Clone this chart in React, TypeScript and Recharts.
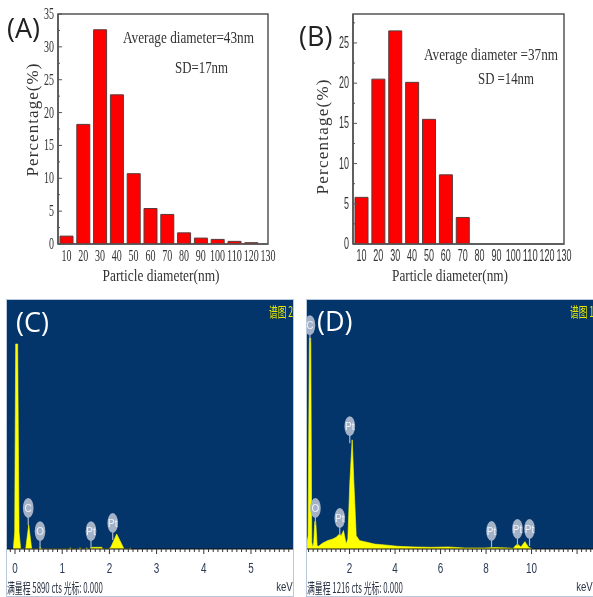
import React from "react";
import { BarChart, Bar, XAxis, YAxis, ReferenceArea, ComposedChart, Area, Scatter, Label } from "recharts";

const diameterTicks = [10, 20, 30, 40, 50, 60, 70, 80, 90, 100, 110, 120, 130];
const diametersA = [10, 20, 30, 40, 50, 60, 70, 80, 90, 100, 110, 120];
const percentA = [1.2, 18.2, 32.6, 22.7, 10.7, 5.4, 4.5, 1.7, 0.9, 0.7, 0.4, 0.2];
const diametersB = [10, 20, 30, 40, 50, 60, 70];
const percentB = [5.8, 20.5, 26.5, 20.1, 15.5, 8.6, 3.3];
const yTicksA = [0, 2.5, 5, 7.5, 10, 12.5, 15, 17.5, 20, 22.5, 25, 27.5, 30, 32.5, 35];
const yTicksB = [0, 2.5, 5, 7.5, 10, 12.5, 15, 17.5, 20, 22.5, 25, 27.5];

const kevC = [-0.035, -0.007, 0.014, 0.035, 0.056, 0.085, 0.12, 0.226, 0.29, 0.353, 0.5, 0.537, 0.57, 1.15, 1.17, 1.19, 1.35, 1.38, 1.4, 1.5, 1.52, 1.54, 1.6, 1.61, 1.84, 1.86, 1.98, 2.03, 2.154, 2.31, 2.34, 2.42, 2.44, 2.46];
const ctsC = [0, 400, 4850, 4850, 4850, 400, 0, 0, 570, 0, 0, 40, 0, 0, 30, 0, 0, 30, 0, 0, 30, 0, 0, 40, 40, 0, 0, 40, 355, 0, 0, 0, 20, 0];
const kevD = [0.134, 0.178, 0.236, 0.295, 0.339, 0.383, 0.427, 0.471, 0.515, 0.574, 0.633, 0.824, 1.044, 1.264, 1.411, 1.558, 1.631, 1.734, 1.851, 1.925, 2.013, 2.116, 2.19, 2.293, 2.439, 2.66, 3.1, 3.54, 4.128, 4.86, 5.596, 6.33, 7.065, 7.946, 8.386, 8.973, 9.193, 9.267, 9.384, 9.53, 9.708, 9.855, 10.03];
const ctsD = [33, 65, 1030, 1030, 33, 8, 33, 134, 134, 16, 13, 29, 41, 49, 57, 73, 65, 90, 24, 49, 326, 533, 326, 65, 41, 36, 24, 20, 13, 10, 8, 10, 5, 5, 7, 5, 3, 13, 24, 10, 36, 10, 0];

const peakKevC = [0.28, 0.53, 1.61, 2.07];
const peakCtsC = [570, 20, 20, 213];
const peakNamesC = ["C", "O", "Pt", "Pt"];
const peakKevD = [0.26, 0.5, 1.57, 2.01, 8.24, 9.38, 9.91];
const peakCtsD = [1010, 117, 68, 517, 5, 15, 15];
const peakNamesD = ["C", "O", "Pt", "Pt", "Pt", "Pt", "Pt"];
const energyTicksC = [-0.1, 0, 0.1, 0.2, 0.3, 0.4, 0.5, 0.6, 0.7, 0.8, 0.9, 1, 1.1, 1.2, 1.3, 1.4, 1.5, 1.6, 1.7, 1.8, 1.9, 2, 2.1, 2.2, 2.3, 2.4, 2.5, 2.6, 2.7, 2.8, 2.9, 3, 3.1, 3.2, 3.3, 3.4, 3.5, 3.6, 3.7, 3.8, 3.9, 4, 4.1, 4.2, 4.3, 4.4, 4.5, 4.6, 4.7, 4.8, 4.9, 5, 5.1, 5.2, 5.3, 5.4, 5.5, 5.6, 5.7, 5.8];
const energyTicksD = [0.2, 0.4, 0.6, 0.8, 1, 1.2, 1.4, 1.6, 1.8, 2, 2.2, 2.4, 2.6, 2.8, 3, 3.2, 3.4, 3.6, 3.8, 4, 4.2, 4.4, 4.6, 4.8, 5, 5.2, 5.4, 5.6, 5.8, 6, 6.2, 6.4, 6.6, 6.8, 7, 7.2, 7.4, 7.6, 7.8, 8, 8.2, 8.4, 8.6, 8.8, 9, 9.2, 9.4, 9.6, 9.8, 10, 10.2, 10.4, 10.6, 10.8, 11, 11.2, 11.4, 11.6, 11.8, 12, 12.2, 12.4, 12.6];
const energyLabelsC = [0, 1, 2, 3, 4, 5];
const energyLabelsD = [2, 4, 6, 8, 10];

const zip = (a: number[], b: number[], k: string, v: string) => a.map((x, i) => ({ [k]: x, [v]: b[i] }));
const SERIF = "'Liberation Serif', serif";
const SANS = "'Liberation Sans', sans-serif";
const CJK = "'Noto Sans CJK SC', sans-serif";
const AXIS = "#555";
const TXT = "#333";

const histX = (font: string) => (p: any) => {
  const s = String(p.payload.value);
  return (
    <g>
      <text x={p.x} y={p.y + 17} textAnchor="middle" fontFamily={font} fontSize={16} fill={TXT} textLength={s.length * 5} lengthAdjust="spacingAndGlyphs">{s}</text>
    </g>
  );
};
const histY = (font: string) => (p: any) => {
  const v = p.payload.value;
  const major = v % 5 === 0;
  return (
    <g>
      <line x1={p.x + 4} x2={p.x + (major ? 8 : 6)} y1={p.y} y2={p.y} stroke={AXIS} strokeWidth={1} />
      {major && <text x={p.x} y={p.y + 5} textAnchor="end" fontFamily={font} fontSize={16} fill={TXT} textLength={String(v).length * 5} lengthAdjust="spacingAndGlyphs">{v}</text>}
    </g>
  );
};

function Histogram(props: { left: number; right: number; xs: number[]; ys: number[]; max: number; yTicks: number[]; font: string; titleX: number; titleW: number; yTitleW: number; yTitleX: number; yTitleY: number }) {
  const { left, right, xs, ys, max, yTicks, font, titleX, titleW, yTitleW, yTitleX, yTitleY } = props;
  const data = zip(xs, ys, "d", "p");
  return (
    <div style={{ position: "absolute", left, top: 0 }}>
      <BarChart width={290} height={295} data={data} margin={{ top: 14, right, bottom: 0, left: 0 }} barSize={13}>
        <XAxis dataKey="d" type="number" domain={[5, 130]} ticks={diameterTicks} interval={0} height={51} tick={histX(font)} tickLine={false} tickSize={0} tickMargin={0} axisLine={{ stroke: AXIS, strokeWidth: 1.5 }} allowDataOverflow>
          <Label value="Particle diameter(nm)" content={() => (
            <text x={titleX} y={281} textAnchor="middle" fontFamily={SERIF} fontSize={17} fill={TXT} textLength={titleW} lengthAdjust="spacingAndGlyphs">Particle diameter(nm)</text>
          )} />
        </XAxis>
        <YAxis type="number" domain={[0, max]} ticks={yTicks} interval={0} width={58} tick={histY(font)} tickLine={false} tickSize={4} tickMargin={0} axisLine={{ stroke: AXIS, strokeWidth: 1.5 }} allowDataOverflow>
          <Label value="Percentage(%)" content={() => (
            <text transform={`translate(${yTitleX} ${yTitleY}) rotate(-90)`} textAnchor="middle" fontFamily={SERIF} fontSize={17} fill={TXT} textLength={yTitleW} lengthAdjust="spacing">Percentage(%)</text>
          )} />
        </YAxis>
        <ReferenceArea x1={5} x2={130} y1={0} y2={max} fill="none" stroke={AXIS} strokeWidth={1.5} />
        <Bar dataKey="p" fill="#ff0000" stroke="#5a3a3a" strokeWidth={1} isAnimationActive={false} />
      </BarChart>
    </div>
  );
}

const peakShape = (names: string[]) => (p: any) => {
  const n = names[p.index];
  const cx = p.cx;
  const cy = p.cy;
  return (
    <g>
      <line x1={cx} x2={cx} y1={cy} y2={cy - 8} stroke="#a9b7cb" strokeWidth={1.2} />
      <ellipse cx={cx} cy={cy - 17} rx={5.3} ry={10} fill="#a4b2c8" />
      <text x={cx} y={cy - 13} textAnchor="middle" fontFamily={SANS} fontSize={10} fill="#eef2f7">{n}</text>
    </g>
  );
};

const specX = (labels: number[], isMajor: (v: number) => boolean) => (p: any) => {
  const v = p.payload.value;
  const major = isMajor(v);
  return (
    <g>
      <line x1={p.x} x2={p.x} y1={p.y} y2={p.y + (major ? 5 : 3)} stroke="#333" strokeWidth={1} />
      {labels.includes(v) && <text x={p.x} y={p.y + 24} textAnchor="middle" fontFamily={SANS} fontSize={14} fill="#2a3a55" textLength={String(v).length * 5.5} lengthAdjust="spacingAndGlyphs">{v}</text>}
    </g>
  );
};

function Spectrum(props: { left: number; width: number; kev: number[]; cts: number[]; domain: [number, number]; ticks: number[]; labels: number[]; isMajor: (v: number) => boolean; peaksX: number[]; peaksY: number[]; names: string[]; full: number; status: string; tag: string; tagX: number }) {
  const { left, width, kev, cts, domain, ticks, labels, isMajor, peaksX, peaksY, names, full, status, tag, tagX } = props;
  const data = zip(kev, cts, "k", "c");
  const peaks = zip(peaksX, peaksY, "k", "c");
  return (
    <div style={{ position: "absolute", left, top: 300, width, height: 296, background: "#fff" }}>
      <ComposedChart width={width} height={296} data={data} margin={{ top: 0, right: 0, bottom: 0, left: 0 }} style={{ display: "block" }}>
        <XAxis dataKey="k" type="number" domain={domain} ticks={ticks} interval={0} height={47} tick={specX(labels, isMajor)} tickLine={false} tickSize={0} tickMargin={0} axisLine={{ stroke: "#111", strokeWidth: 1 }} allowDataOverflow />
        <YAxis type="number" domain={[0, full]} hide allowDataOverflow />
        <ReferenceArea x1={domain[0]} x2={domain[1]} y1={0} y2={full} fill="#03356b" fillOpacity={1} stroke="none" ifOverflow="hidden" />
        <Area dataKey="c" type="linear" fill="#ffff00" fillOpacity={1} stroke="#ffff00" strokeWidth={0.6} isAnimationActive={false} dot={false} activeDot={false} />
        <Scatter data={peaks} dataKey="c" shape={peakShape(names)} isAnimationActive={false} />
      </ComposedChart>
      <div style={{ position: "absolute", left: 0, top: 279, fontFamily: CJK, fontSize: 14, lineHeight: "16px", color: "#2b3444", whiteSpace: "nowrap", transform: "scaleX(0.56)", transformOrigin: "0 0" }}>{status}</div>
      <div style={{ position: "absolute", right: 0, top: 280, fontFamily: SANS, fontSize: 12, lineHeight: "14px", color: "#2b3444", transform: "scaleX(0.8)", transformOrigin: "100% 0" }}>keV</div>
      <div style={{ position: "absolute", left: tagX, top: 2, fontFamily: CJK, fontSize: 14, lineHeight: "18px", color: "#e8e800", whiteSpace: "nowrap", transform: "scaleX(0.62)", transformOrigin: "0 0" }}>{tag}</div>
    </div>
  );
}

const Note = (p: { x: number; y: number; w: number; children: string }) => (
  <text x={p.x} y={p.y} fontFamily={SERIF} fontSize={17} fill={TXT} textLength={p.w} lengthAdjust="spacingAndGlyphs">{p.children}</text>
);

export default function App() {
  return (
    <div style={{ position: "absolute", left: 0, top: 0, width: 593, height: 597, background: "#fff", overflow: "hidden" }}>
      <div style={{ position: "absolute", inset: 0, filter: "blur(0.55px)" }}>
        <Histogram left={0} right={22} xs={diametersA} ys={percentA} max={35} yTicks={yTicksA} font={SERIF} titleX={161} titleW={117} yTitleW={113} yTitleX={38} yTitleY={120} />
        <Histogram left={295} right={21} xs={diametersB} ys={percentB} max={28.6} yTicks={yTicksB} font={SANS} titleX={155} titleW={116} yTitleW={115} yTitleX={33} yTitleY={137} />
        <div style={{ position: "absolute", left: 6, top: 299, width: 288, height: 298, background: "#b7c7dc" }} />
        <div style={{ position: "absolute", left: 306, top: 299, width: 287, height: 298, background: "#b7c7dc" }} />
        <Spectrum left={7} width={286} kev={kevC} cts={ctsC} domain={[-0.17, 5.89]} ticks={energyTicksC} labels={energyLabelsC} isMajor={(v) => Number.isInteger(v)} peaksX={peakKevC} peaksY={peakCtsC} names={peakNamesC} full={5890} status="满量程 5890 cts 光标: 0.000" tag="谱图 2" tagX={262} />
        <Spectrum left={307} width={286} kev={kevD} cts={ctsD} domain={[0.13, 12.7]} ticks={energyTicksD} labels={energyLabelsD} isMajor={(v) => Number.isInteger(v) && v % 2 === 0} peaksX={peakKevD} peaksY={peakCtsD} names={peakNamesD} full={1216} status="满量程 1216 cts 光标: 0.000" tag="谱图 1" tagX={263} />
        <svg width={593} height={597} style={{ position: "absolute", left: 0, top: 0 }}>
          <Note x={123} y={43} w={131}>Average diameter=43nm</Note>
          <Note x={175} y={73} w={53}>SD=17nm</Note>
          <Note x={424} y={60} w={134}>Average diameter =37nm</Note>
          <Note x={478} y={84} w={56}>SD =14nm</Note>
          <text x={7} y={38} fontFamily="'Open Sans', sans-serif" fontSize={27} fill="#222">(A)</text>
          <text x={299} y={46} fontFamily="'Open Sans', sans-serif" fontSize={27} fill="#222">(B)</text>
          <text x={16} y={332} fontFamily="'Open Sans', sans-serif" fontSize={27} fill="#fff">(C)</text>
          <text x={317} y={331} fontFamily="'Open Sans', sans-serif" fontSize={27} fill="#fff">(D)</text>
        </svg>
      </div>
    </div>
  );
}
